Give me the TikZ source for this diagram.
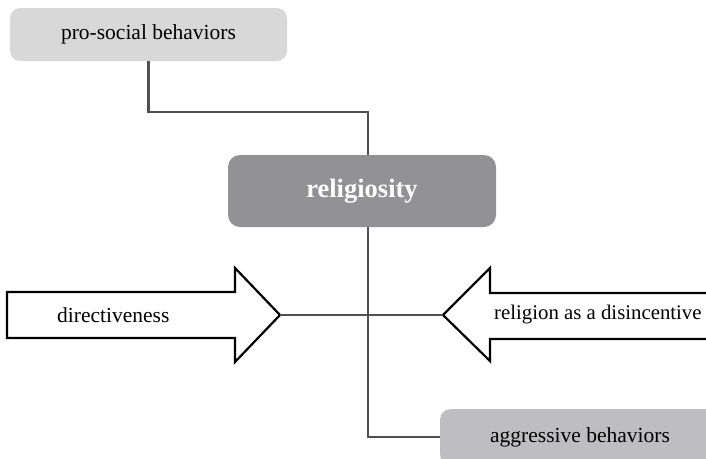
\documentclass[tikz,border=0pt]{standalone}
\usepackage{fontspec}
\setmainfont{Liberation Serif}
\usepackage{tikz}
\usetikzlibrary{positioning, calc}
\definecolor{boxlight}{RGB}{216,216,217}
\definecolor{boxmid}{RGB}{190,190,192}
\definecolor{boxdark}{RGB}{146,146,149}
\definecolor{linkgray}{RGB}{80,80,80}
\tikzset{
  outcome/.style={rectangle, fill=boxlight, draw=none,
    rounded corners=10pt, font=\fontsize{21.5}{25}\selectfont},
  core/.style={rectangle, fill=boxdark, draw=none, text=white,
    minimum width=268pt, minimum height=72pt,
    rounded corners=12pt, font=\fontsize{26.5}{30}\selectfont\bfseries},
  bigarrow/.style={draw=black, fill=white, line width=2.2pt, line join=miter},
  arrowlabel/.style={font=\fontsize{21.5}{25}\selectfont, inner sep=0pt},
  link/.style={draw=linkgray, line width=2.2pt}
}
\begin{document}
\begin{tikzpicture}[x=1pt, y=-1pt]
  \path[use as bounding box, clip] (0,0) rectangle (706,458);
  % boxes
  \node[outcome, minimum width=277pt, minimum height=53pt] (prosocial) at (148.5,34.5) {pro-social behaviors};
  \node[core] (relig) at (362,191) {religiosity};
  \node[outcome, fill=boxmid, minimum width=280pt, minimum height=56pt, anchor=north west] (aggr) at (440,409) {};
  \node[arrowlabel] (aggrtext) at (580,437) {aggressive behaviors};
  \coordinate (hub) at (368,315);
  % block arrows
  \draw[bigarrow] (7,292) -- (235,292) -- (235,268) -- (280,315) coordinate (dirtip)
        -- (235,362) -- (235,338) -- (7,338) -- cycle;
  \draw[bigarrow] (730,293) -- (490,293) -- (490,268) -- (443,315) coordinate (distip)
        -- (490,361) -- (490,339) -- (730,339) -- cycle;
  \node[arrowlabel, anchor=west] (dirtext) at (57,315) {directiveness};
  \node[arrowlabel, anchor=west, font=\fontsize{20.8}{25}\selectfont] (distext) at (494,315) {religion as a disincentive};
  % connectors
  \draw[link] (prosocial.south) -- ++(0,51) -| (hub |- relig.north);
  \draw[link] (hub |- relig.south) |- (aggr.west);
  \draw[link] (dirtip) -- (distip);
\end{tikzpicture}
\end{document}
